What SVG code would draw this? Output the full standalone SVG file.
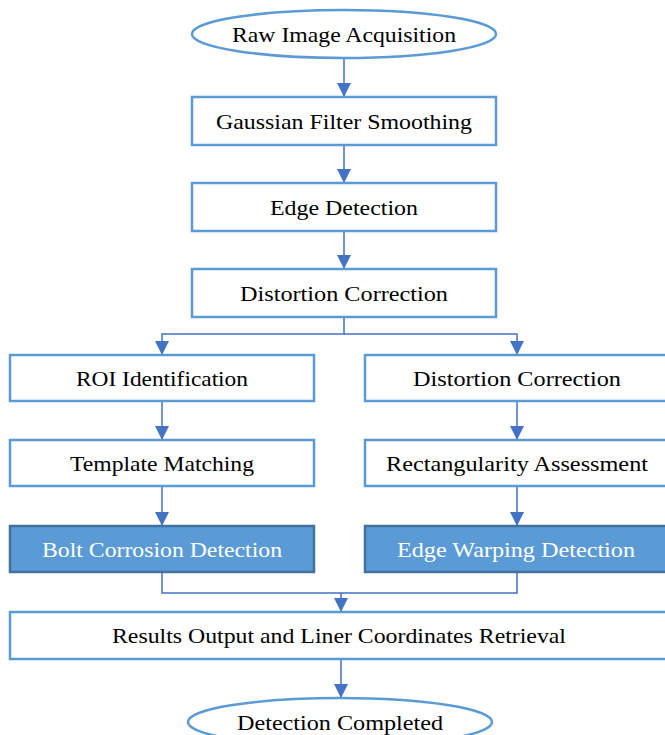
<svg xmlns="http://www.w3.org/2000/svg" width="665" height="735" viewBox="0 0 665 735">
<defs>
<style>
.box{fill:#fff;stroke:#5B9BD5;stroke-width:2.5}
.dark{fill:#5B9BD5;stroke:#41719C;stroke-width:2.5}
.t{font-family:'Liberation Serif','DejaVu Serif',serif;font-size:22px;fill:#000;text-anchor:middle}
.w{fill:#fff}
.c{fill:none;stroke:#4472C4;stroke-width:1.5}
</style>
<marker id="ah" viewBox="0 0 10 10" refX="10" refY="5" markerWidth="14" markerHeight="15" markerUnits="userSpaceOnUse" orient="auto">
<path d="M0,0 L10,5 L0,10 z" fill="#4472C4"/>
</marker>
</defs>
<rect width="665" height="735" fill="#fff"/>
<g id="connectors">
<line class="c" x1="344" y1="58" x2="344" y2="97" marker-end="url(#ah)"/>
<line class="c" x1="344" y1="145" x2="344" y2="183" marker-end="url(#ah)"/>
<line class="c" x1="344" y1="231" x2="344" y2="269" marker-end="url(#ah)"/>
<polyline class="c" points="344,317 344,334 162,334 162,355" marker-end="url(#ah)"/>
<polyline class="c" points="344,334 517,334 517,355" marker-end="url(#ah)"/>
<line class="c" x1="162" y1="401" x2="162" y2="440" marker-end="url(#ah)"/>
<line class="c" x1="517" y1="401" x2="517" y2="440" marker-end="url(#ah)"/>
<line class="c" x1="162" y1="486" x2="162" y2="526" marker-end="url(#ah)"/>
<line class="c" x1="517" y1="486" x2="517" y2="526" marker-end="url(#ah)"/>
<polyline class="c" points="162,572 162,593 517,593 517,572"/>
<line class="c" x1="341" y1="593" x2="341" y2="612" marker-end="url(#ah)"/>
<line class="c" x1="341" y1="659" x2="341" y2="698" marker-end="url(#ah)"/>
</g>
<g id="n1"><ellipse class="box" cx="344" cy="34" rx="152" ry="24"/><text class="t" x="344" y="42" textLength="224" lengthAdjust="spacingAndGlyphs">Raw Image  Acquisition</text></g>
<g id="n2"><rect class="box" x="192" y="97" width="304" height="48"/><text class="t" x="344" y="129" textLength="256" lengthAdjust="spacingAndGlyphs">Gaussian Filter  Smoothing</text></g>
<g id="n3"><rect class="box" x="192" y="183" width="304" height="48"/><text class="t" x="344" y="215" textLength="148" lengthAdjust="spacingAndGlyphs">Edge Detection</text></g>
<g id="n4"><rect class="box" x="192" y="269" width="304" height="48"/><text class="t" x="344" y="301" textLength="208" lengthAdjust="spacingAndGlyphs">Distortion  Correction</text></g>
<g id="n5"><rect class="box" x="10" y="355" width="304" height="46"/><text class="t" x="162" y="386" textLength="172" lengthAdjust="spacingAndGlyphs">ROI Identification</text></g>
<g id="n6"><rect class="box" x="365" y="355" width="304" height="46"/><text class="t" x="517" y="386" textLength="208" lengthAdjust="spacingAndGlyphs">Distortion  Correction</text></g>
<g id="n7"><rect class="box" x="10" y="440" width="304" height="46"/><text class="t" x="162" y="471" textLength="184" lengthAdjust="spacingAndGlyphs">Template Matching</text></g>
<g id="n8"><rect class="box" x="365" y="440" width="304" height="46"/><text class="t" x="517" y="471" textLength="262" lengthAdjust="spacingAndGlyphs">Rectangularity  Assessment</text></g>
<g id="n9"><rect class="dark" x="10" y="526" width="304" height="46"/><text class="t w" x="162" y="557" textLength="240" lengthAdjust="spacingAndGlyphs">Bolt Corrosion Detection</text></g>
<g id="n10"><rect class="dark" x="365" y="526" width="304" height="46"/><text class="t w" x="516" y="557" textLength="238" lengthAdjust="spacingAndGlyphs">Edge Warping  Detection</text></g>
<g id="n11"><rect class="box" x="10" y="612" width="660" height="47"/><text class="t" x="339" y="643" textLength="454" lengthAdjust="spacingAndGlyphs">Results Output and Liner  Coordinates Retrieval</text></g>
<g id="n12"><ellipse class="box" cx="340" cy="722" rx="152" ry="24"/><text class="t" x="340" y="730" textLength="206" lengthAdjust="spacingAndGlyphs">Detection  Completed</text></g>
</svg>
